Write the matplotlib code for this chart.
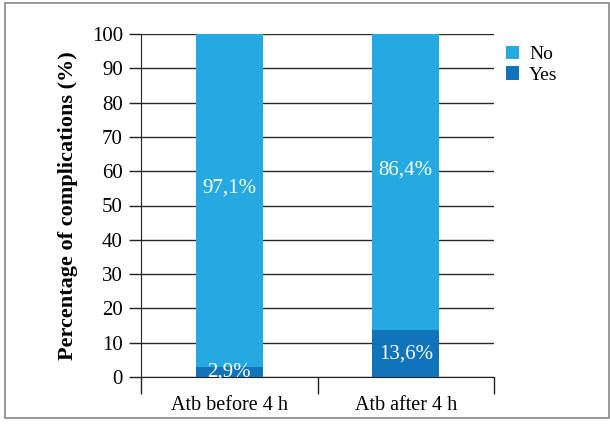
import matplotlib.pyplot as plt
from matplotlib.patches import Rectangle

groups = ["Atb before 4 h", "Atb after 4 h"]
yes_pct = [2.9, 13.6]
no_pct = [97.1, 86.4]
series_names = ["No", "Yes"]

COL_NO = "#25a9e0"
COL_YES = "#1174bb"

plt.rcParams["font.family"] = ["Liberation Serif", "DejaVu Serif"]

fig = plt.figure(figsize=(6.1, 4.25), dpi=100)
ax = fig.add_axes([141 / 610, 1 - 377 / 425, 353 / 610, 343 / 425])

x = list(range(len(groups)))
w = 0.38
b_yes = ax.bar(x, yes_pct, width=w, color=COL_YES, label=series_names[1], zorder=3)
b_no = ax.bar(x, no_pct, width=w, bottom=yes_pct, color=COL_NO, label=series_names[0], zorder=3)

for i in x:
    ax.text(i, yes_pct[i] / 2, f"{yes_pct[i]:.1f}%".replace(".", ","),
            ha="center", va="center", color="white", fontsize=15, zorder=4)
    ax.text(i, yes_pct[i] + no_pct[i] / 2 + 3.5, f"{no_pct[i]:.1f}%".replace(".", ","),
            ha="center", va="center", color="white", fontsize=15, zorder=4)

ax.set_xlim(-0.5, 1.5)
ax.set_ylim(0, 100)
ax.set_yticks(range(0, 101, 10))
ax.yaxis.grid(True, color="#2a2a2a", linewidth=1.0, zorder=0)
ax.set_axisbelow(True)

ax.set_xticks(x)
ax.set_xticklabels(groups)
ax.set_xticks([-0.5, 0.5, 1.5], minor=True)
ax.tick_params(axis="x", which="major", length=0, labelsize=14.5, pad=14)
ax.tick_params(axis="x", which="minor", length=12, width=1, color="#222222", direction="out")
ax.tick_params(axis="y", length=9, width=1, color="#222222", labelsize=15, pad=4)

for s in ["top", "right"]:
    ax.spines[s].set_visible(False)
ax.spines["left"].set_color("#222222")
ax.spines["bottom"].set_color("#222222")

ax.set_ylabel("Percentage of complications (%)", fontsize=16, fontweight="bold", labelpad=10)

ax.legend(handles=[b_no, b_yes], loc="upper left", bbox_to_anchor=(1.0, 1.0),
          frameon=False, fontsize=14, handlelength=0.7, handleheight=0.7,
          handletextpad=0.5, labelspacing=0.15, borderaxespad=0.2)

fig.patches.append(Rectangle((5 / 610, 1 - 418 / 425), 604 / 610, 415 / 425,
                             transform=fig.transFigure, fill=False,
                             edgecolor="#888888", linewidth=1.2))

fig.savefig("out.png", dpi=100)
